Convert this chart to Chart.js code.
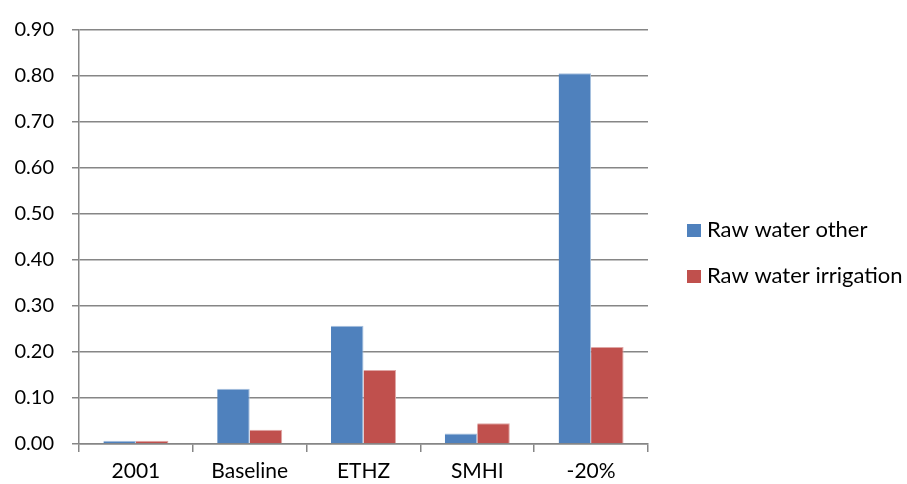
<!DOCTYPE html>
<html>
<head>
<meta charset="utf-8">
<script src="https://cdn.jsdelivr.net/npm/chart.js@4/dist/chart.umd.min.js"></script>
<style>
  html, body { margin: 0; padding: 0; background: #ffffff; }
  #wrap { width: 907px; height: 484px; position: relative; }
</style>
</head>
<body>
<div id="wrap"><canvas id="c" width="907" height="484"></canvas></div>
<script>
// Scenario categories along the x axis
const categories = ['2001', 'Baseline', 'ETHZ', 'SMHI', '-20%'];
// Series values
const rawWaterOther = [0.007, 0.120, 0.257, 0.023, 0.806];
const rawWaterIrrigation = [0.007, 0.031, 0.161, 0.045, 0.211];
// Y axis range
const yMin = 0;
const yMax = 0.9;
const yStep = 0.1;

const FONT = 'Lato, "Open Sans", sans-serif';
const GRID = '#868686';
const COLORS = ['#4F81BD', '#C0504D'];

// Legend swatch: a small square sitting at the right end of a wider, transparent tile,
// so the swatch hugs its label text.
function swatch(color) {
  const c = document.createElement('canvas');
  c.width = 34;
  c.height = 13;
  const g = c.getContext('2d');
  g.fillStyle = color;
  g.fillRect(20, 0, 14, 13);
  return c;
}
const swatches = COLORS.map(swatch);

new Chart(document.getElementById('c'), {
  type: 'bar',
  data: {
    labels: categories,
    datasets: [
      {
        label: 'Raw water other',
        data: rawWaterOther,
        backgroundColor: COLORS[0],
        borderColor: '#A7C0DE',
        borderWidth: { left: 0, right: 1, top: 1, bottom: 0 },
        categoryPercentage: 0.571,
        barPercentage: 1.0
      },
      {
        label: 'Raw water irrigation',
        data: rawWaterIrrigation,
        backgroundColor: COLORS[1],
        borderColor: '#DFA6A5',
        borderWidth: { left: 0, right: 1, top: 1, bottom: 0 },
        categoryPercentage: 0.571,
        barPercentage: 1.0
      }
    ]
  },
  options: {
    responsive: false,
    animation: false,
    devicePixelRatio: 1,
    layout: { padding: { left: 0, right: 1, top: 17, bottom: 0 } },
    plugins: {
      tooltip: { enabled: false },
      legend: {
        position: 'right',
        align: 'center',
        maxWidth: 258,
        title: { display: true, text: '', padding: 2, font: { size: 1 } },
        labels: {
          font: { family: FONT, size: 22 },
          color: '#000000',
          usePointStyle: true,
          pointStyleWidth: 24,
          boxHeight: 13,
          padding: 24,
          generateLabels(chart) {
            const items = Chart.defaults.plugins.legend.labels.generateLabels(chart);
            items.forEach((it, i) => {
              it.pointStyle = swatches[i];
              it.lineWidth = 0;
            });
            return items;
          }
        }
      }
    },
    scales: {
      x: {
        grid: {
          display: true,
          offset: true,
          drawOnChartArea: false,
          drawTicks: true,
          tickLength: 8,
          color: GRID,
          lineWidth: 1.5
        },
        border: { display: true, color: GRID, width: 1.5 },
        ticks: {
          font: { family: FONT, size: 21 },
          color: '#000000',
          padding: 7
        },
        afterFit(scale) { scale.height = 40; }
      },
      y: {
        min: yMin,
        max: yMax,
        grid: {
          color: GRID,
          lineWidth: 1.5,
          drawTicks: true,
          tickLength: 7
        },
        border: { display: true, color: GRID, width: 1.5 },
        ticks: {
          stepSize: yStep,
          font: { family: FONT, size: 20 },
          color: '#000000',
          padding: 18,
          callback: (v) => Number(v).toFixed(2)
        },
        afterFit(scale) { scale.width = 79; }
      }
    }
  }
});
</script>
</body>
</html>
